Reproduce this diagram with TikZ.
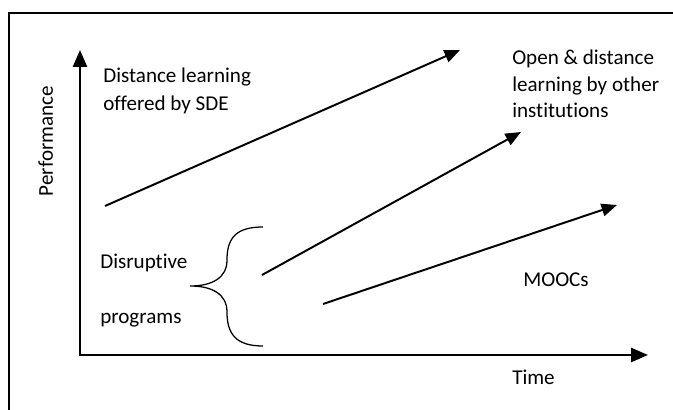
\documentclass[tikz,border=0pt]{standalone}
\usepackage{fontspec}
\setmainfont{Carlito}[Ligatures=NoCommon]
\usetikzlibrary{arrows.meta}

\begin{document}
\begin{tikzpicture}[x=1cm,y=1cm,
  lbl/.style={anchor=base west, inner sep=0pt, align=left, font=\fontsize{15}{19}\selectfont},
  axis/.style={-{Triangle[length=12pt,width=10pt]}, line width=1.6pt},
  trend/.style={-{Triangle[length=11pt,width=9pt]}, line width=1.4pt}]
  \useasboundingbox (0,0) rectangle (16.825,10.25);
  \draw[line width=1pt] (0.225,0) -- (0.225,9.925) -- (16.825,9.925);

  \coordinate (o) at (2,1.375);
  \coordinate (ytop) at (2,9.0);
  \coordinate (xend) at (16.2,1.375);
  \draw[axis, line cap=rect] (o) -- (ytop);
  \draw[axis, line cap=rect] (o) -- (xend);

  \node[lbl, rotate=90, anchor=base] (perf) at (1.325,6.725) {Performance};
  \node[lbl] (time) at (12.8,0.625) {Time};

  \coordinate (sde0) at (2.625,5.1);
  \coordinate (sde1) at (11.5,9.0);
  \coordinate (odl0) at (6.55,3.375);
  \coordinate (odl1) at (13.025,6.95);
  \coordinate (mooc0) at (8.075,2.65);
  \coordinate (mooc1) at (15.425,5.125);
  \draw[trend] (sde0) -- (sde1);
  \draw[trend] (odl0) -- (odl1);
  \draw[trend] (mooc0) -- (mooc1);

  \node[lbl] (sde) at (2.575,7.475) {Distance learning\\[1.6pt]offered by SDE};
  \node[lbl] (odl) at (12.8,7.3) {Open \& distance\\learning by other\\institutions};
  \node[lbl] (mooc) at (13.075,3.075) {MOOCs};
  \node[lbl] (disr) at (2.5,2.15) {Disruptive\\[20.8pt]programs};

  \coordinate (tip) at (4.75,3.1);
  \draw[line width=0.9pt] (6.575,4.575) .. controls (5.9,4.575) and (5.675,4.3) .. (5.675,3.75)
    .. controls (5.675,3.3) and (5.3,3.1) .. (tip)
    .. controls (5.3,3.1) and (5.675,2.9) .. (5.675,2.45)
    .. controls (5.675,1.9) and (5.9,1.6) .. (6.575,1.6);
\end{tikzpicture}
\end{document}
